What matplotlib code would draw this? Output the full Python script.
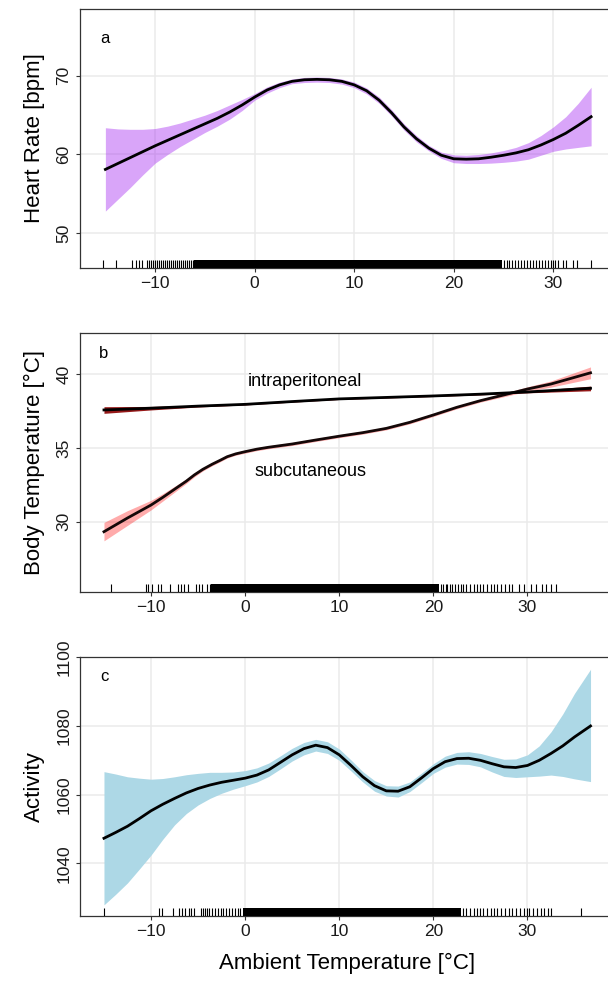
import numpy as np
import matplotlib
matplotlib.use("Agg")
import matplotlib.pyplot as plt

plt.rcParams['font.family'] = ['Liberation Sans', 'DejaVu Sans']

# panel a: heart rate
hr_x = [-15, -13.75, -12.5, -11.25, -10, -8.75, -7.5, -6.25, -5, -3.75, -2.5, -1.25, 0, 1.25, 2.5, 3.75,
        5, 6.25, 7.5, 8.75, 10, 11.25, 12.5, 13.75, 15, 16.25, 17.5, 18.75, 20, 21.25, 22.5, 23.75,
        25, 26.25, 27.5, 28.75, 30, 31.25, 32.5, 33.8]
hr_fit = [58.1, 58.85, 59.6, 60.35, 61.1, 61.8, 62.5, 63.2, 63.9, 64.6, 65.4, 66.3, 67.3, 68.2, 68.85, 69.3,
          69.5, 69.55, 69.5, 69.3, 68.85, 68.1, 66.9, 65.3, 63.5, 62.0, 60.8, 59.9, 59.45, 59.4, 59.45, 59.65,
          59.9, 60.2, 60.6, 61.2, 61.9, 62.7, 63.7, 64.8]
hr_hi = [63.4, 63.25, 63.2, 63.2, 63.3, 63.6, 64.0, 64.5, 65.0, 65.6, 66.3, 67.0, 67.75, 68.6, 69.2, 69.6,
         69.8, 69.85, 69.8, 69.6, 69.2, 68.45, 67.3, 65.7, 63.9, 62.4, 61.15, 60.3, 59.95, 59.9, 60.0, 60.2,
         60.5, 60.9, 61.5, 62.4, 63.5, 64.8, 66.5, 68.55]
hr_lo = [52.8, 54.3, 55.8, 57.4, 58.9, 60.0, 61.0, 61.9, 62.8, 63.6, 64.5, 65.6, 66.9, 67.8, 68.5, 69.0,
         69.15, 69.2, 69.15, 68.95, 68.5, 67.7, 66.5, 64.9, 63.1, 61.6, 60.45, 59.5, 58.95, 58.85, 58.85, 58.9,
         59.0, 59.15, 59.4, 59.9, 60.4, 60.7, 60.9, 61.1]
hr_rug = [-15.2, -13.9, -12.3, -11.9, -11.6, -11.3, -10.8, -10.6, -10.4, -10.2, -10.0, -9.8, -9.6, -9.4, -9.2,
          -9.0, -8.8, -8.6, -8.4, -8.2, -8.0, -7.8, -7.6, -7.4, -7.2, -7.0, -6.8, -6.6, -6.4, -6.2,
          25.0, 25.3, 25.6, 25.9, 26.2, 26.5, 26.8, 27.1, 27.4, 27.7, 28.0, 28.3, 28.6, 28.9, 29.2, 29.5,
          29.8, 30.0, 30.2, 30.5, 31.0, 31.3, 32.0, 32.4, 33.8]
hr_dense = [(-6.1, 24.8)]

# panel b: body temperature
sc_x = [-15, -12.5, -10, -8.75, -7.5, -6.25, -5.4, -4.5, -3.5, -2.7, -1.9, -1.0, 0, 1.25, 2.5, 5, 7.5, 10,
        12.5, 15, 17.5, 20, 22.5, 25, 27.5, 30, 32.5, 34.5, 36.7]
sc_fit = [29.32, 30.25, 31.13, 31.65, 32.2, 32.75, 33.17, 33.55, 33.9, 34.15, 34.41, 34.6, 34.75, 34.92, 35.05,
          35.27, 35.54, 35.8, 36.04, 36.33, 36.74, 37.24, 37.76, 38.21, 38.6, 39.0, 39.34, 39.7, 40.1]
sc_hi = [29.95, 30.75, 31.45, 31.9, 32.4, 32.9, 33.3, 33.66, 34.0, 34.25, 34.5, 34.69, 34.85, 35.02, 35.15,
         35.37, 35.64, 35.9, 36.14, 36.43, 36.84, 37.34, 37.86, 38.31, 38.72, 39.15, 39.55, 40.0, 40.5]
sc_lo = [28.7, 29.75, 30.8, 31.4, 32.0, 32.6, 33.04, 33.44, 33.8, 34.05, 34.32, 34.51, 34.65, 34.82, 34.95,
         35.17, 35.44, 35.7, 35.94, 36.23, 36.64, 37.14, 37.66, 38.11, 38.48, 38.85, 39.13, 39.4, 39.7]
ip_x = [-15, -10, -5, 0, 5, 10, 15, 20, 25, 30, 36.7]
ip_fit = [37.58, 37.7, 37.84, 37.96, 38.15, 38.33, 38.43, 38.53, 38.65, 38.8, 39.05]
ip_hi = [37.8, 37.82, 37.9, 38.0, 38.19, 38.37, 38.47, 38.57, 38.7, 38.86, 39.2]
ip_lo = [37.35, 37.58, 37.78, 37.92, 38.11, 38.29, 38.39, 38.49, 38.6, 38.74, 38.88]
bt_rug = [-14.3, -10.5, -10.3, -9.9, -9.25, -8.97, -8.0, -7.1, -6.8, -6.5, -6.06, -5.2, -4.9, -4.6, -4.1, -3.76,
          20.8, 21.0, 21.3, 21.5, 21.8, 22.0, 22.3, 22.6, 22.9, 23.2, 23.5, 23.9, 24.3, 24.6, 25.0, 25.3,
          25.7, 26.1, 26.4, 26.8, 27.2, 27.6, 28.0, 28.4, 29.1, 29.6, 30.4, 30.9, 31.5, 32.0, 32.5, 33.0]
bt_dense = [(-3.6, 20.6)]

# panel c: activity
ac_x = [-15, -13.75, -12.5, -11.25, -10, -8.75, -7.5, -6.25, -5, -3.75, -2.5, -1.25, 0, 1.25, 2.5, 3.75,
        5, 6.25, 7.5, 8.75, 10, 11.25, 12.5, 13.75, 15, 16.25, 17.5, 18.75, 20, 21.25, 22.5, 23.75,
        25, 26.25, 27.5, 28.75, 30, 31.25, 32.5, 33.75, 35, 36.7]
ac_fit = [1047.3, 1049.0, 1050.8, 1053.0, 1055.3, 1057.2, 1058.9, 1060.5, 1061.8, 1062.8, 1063.6, 1064.2,
          1064.8, 1065.7, 1067.2, 1069.4, 1071.6, 1073.4, 1074.4, 1073.7, 1071.6, 1068.5, 1065.2, 1062.6,
          1061.1, 1061.0, 1062.3, 1064.9, 1067.6, 1069.6, 1070.5, 1070.6, 1070.0, 1069.0, 1068.1, 1067.9,
          1068.5, 1070.0, 1072.0, 1074.2, 1076.8, 1080.0]
ac_hi = [1066.7, 1066.0, 1065.2, 1064.8, 1064.5, 1064.7, 1065.2, 1065.8, 1066.2, 1066.5, 1066.5, 1066.6,
         1067.0, 1067.8, 1069.2, 1071.3, 1073.5, 1075.2, 1076.1, 1075.4, 1073.3, 1070.1, 1066.7, 1064.1,
         1062.6, 1062.5, 1063.7, 1066.3, 1069.0, 1071.2, 1072.3, 1072.5, 1072.0, 1071.1, 1070.3, 1070.4,
         1071.6, 1074.2, 1078.3, 1083.5, 1089.5, 1096.5]
ac_lo = [1027.9, 1031.0, 1034.3, 1038.3, 1042.4, 1047.0, 1051.2, 1054.5, 1057.0, 1058.9, 1060.4, 1061.6,
         1062.6, 1063.7, 1065.3, 1067.5, 1069.8, 1071.6, 1072.7, 1072.0, 1070.0, 1066.9, 1063.7, 1061.0,
         1059.6, 1059.3, 1060.9, 1063.5, 1066.2, 1068.0, 1068.9, 1068.8, 1068.1, 1066.6, 1065.3, 1065.0,
         1065.2, 1065.4, 1065.7, 1065.3, 1064.6, 1063.8]
ac_rug = [-15.0, -9.1, -8.8, -7.7, -7.0, -6.7, -6.4, -6.0, -5.7, -5.4, -4.7, -4.5, -4.3, -4.1, -3.8, -3.5,
          -3.2, -2.9, -2.6, -2.3, -2.0, -1.7, -1.4, -1.1, -0.8, -0.5,
          23.2, 23.5, 23.9, 24.3, 24.6, 25.0, 25.3, 25.7, 26.1, 26.4, 26.8, 27.2, 27.6, 28.0, 28.4, 28.8,
          29.2, 29.6, 29.9, 30.2, 30.6, 31.0, 31.4, 31.8, 32.2, 32.5, 35.7]
ac_dense = [(-0.2, 22.9)]

W, H = 608, 982


def make_axes(fig, top_px, bottom_px, xlim, ylim, yticks):
    left = 79.5 / W
    right = 615.0 / W
    ax = fig.add_axes([left, 1 - bottom_px / H, right - left, (bottom_px - top_px) / H])
    ax.set_xlim(*xlim)
    ax.set_ylim(*ylim)
    ax.set_xticks([-10, 0, 10, 20, 30])
    ax.set_yticks(yticks)
    ax.grid(True, color='#EBEBEB', linewidth=1.1)
    ax.set_axisbelow(True)
    for s in ax.spines.values():
        s.set_color('#333333')
        s.set_linewidth(0.9)
    ax.tick_params(length=3, width=0.8, color='#333333', labelsize=12.5, pad=3, labelcolor='#1a1a1a')
    for lab in ax.get_yticklabels():
        lab.set_rotation(90)
        lab.set_va('center')
    return ax


def rug(ax, vals, dense):
    tr = ax.get_xaxis_transform()
    ax.vlines(vals, 0, 0.03, transform=tr, color='black', linewidth=0.8, zorder=3)
    for lo, hi in dense:
        ax.fill_between([lo, hi], 0, 0.03, transform=tr, color='black', linewidth=0, zorder=3)


fig = plt.figure(figsize=(W / 100, H / 100), dpi=100)

ax1 = make_axes(fig, 9, 267.7, (-17.6, 36.2), (45.6, 78.5), [50, 60, 70])
ax1.fill_between(hr_x, hr_lo, hr_hi, color='#A020F0', alpha=0.4, linewidth=0, zorder=2)
ax1.plot(hr_x, hr_fit, color='black', linewidth=2, zorder=4)
rug(ax1, hr_rug, hr_dense)
ax1.text(-15, 74.8, 'a', fontsize=12, ha='center', va='center')
ax1.set_ylabel('Heart Rate [bpm]', fontsize=16, labelpad=8)

ax2 = make_axes(fig, 333.3, 592, (-17.6, 39.3), (25.23, 42.78), [30, 35, 40])
ax2.fill_between(sc_x, sc_lo, sc_hi, color='red', alpha=0.33, linewidth=0, zorder=2)
ax2.fill_between(ip_x, ip_lo, ip_hi, color='darkred', alpha=0.9, linewidth=0, zorder=2)
ax2.plot(sc_x, sc_fit, color='#140808', linewidth=2, zorder=4)
ax2.plot(ip_x, ip_fit, color='black', linewidth=2, zorder=4)
rug(ax2, bt_rug, bt_dense)
ax2.text(-15, 41.4, 'b', fontsize=12, ha='center', va='center')
ax2.text(6.4, 39.5, 'intraperitoneal', fontsize=13, ha='center', va='center')
ax2.text(6.9, 33.4, 'subcutaneous', fontsize=13, ha='center', va='center')
ax2.set_ylabel('Body Temperature [°C]', fontsize=16, labelpad=8)

ax3 = make_axes(fig, 657.3, 916, (-17.6, 39.3), (1024.66, 1100), [1040, 1060, 1080, 1100])
ax3.fill_between(ac_x, ac_lo, ac_hi, color='#ADD8E6', linewidth=0, zorder=2)
ax3.plot(ac_x, ac_fit, color='black', linewidth=2, zorder=4)
rug(ax3, ac_rug, ac_dense)
ax3.text(-15, 1094.4, 'c', fontsize=12, ha='center', va='center')
ax3.set_ylabel('Activity', fontsize=16, labelpad=8)
ax3.set_xlabel('Ambient Temperature [°C]', fontsize=16, labelpad=10)

fig.savefig('out.png', dpi=100)
